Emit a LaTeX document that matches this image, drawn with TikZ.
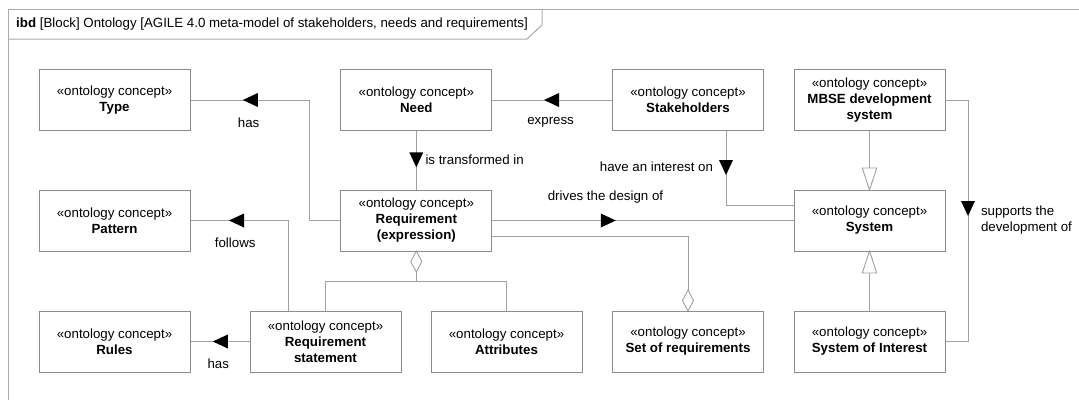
\documentclass[tikz,border=0pt]{standalone}
\usepackage{fontspec}
\setmainfont{Liberation Sans}
\definecolor{boxc}{RGB}{140,140,140}
\definecolor{linec}{RGB}{160,160,160}
\definecolor{framec}{RGB}{170,170,170}
\newcommand\arrL[2]{\fill[black] (#1,#2) -- ++(15,-7) -- ++(0,14) -- cycle;}
\newcommand\arrR[2]{\fill[black] (#1,#2) -- ++(-15,-7) -- ++(0,14) -- cycle;}
\newcommand\arrD[2]{\fill[black] (#1,#2) -- ++(-7,-15) -- ++(14,0) -- cycle;}
\begin{document}
\begin{tikzpicture}[x=1pt,y=-1pt,
  concept/.style={draw=boxc, line width=1pt, minimum width=151pt, minimum height=61pt, inner sep=0pt, align=center, font=\fontsize{13.3}{16}\selectfont, fill=white},
  conn/.style={draw=linec, line width=0.9pt},
  hollow/.style={draw=linec, line width=0.9pt, fill=white},
  lbl/.style={font=\fontsize{13.3}{16}\selectfont, inner sep=0pt},
]
\useasboundingbox[fill=white] (0,0) rectangle (1079,400);
% frame
\draw[framec, line width=1pt] (8,400) -- (8,9) -- (1079,9);
\draw[framec, line width=1pt] (8,39) -- (527,39) -- (542,25) -- (542,9);
\node[lbl, anchor=west] (title) at (16,24) {\textbf{ibd} [Block] Ontology [AGILE 4.0 meta-model of stakeholders, needs and requirements]};
% nodes
\node[concept] (type) at (114.5,100) {«ontology concept»\\\textbf{Type}};
\node[concept] (need) at (416.3,100) {«ontology concept»\\\textbf{Need}};
\node[concept] (stake) at (688,100) {«ontology concept»\\\textbf{Stakeholders}};
\node[concept] (mbse) at (869.5,100) {«ontology concept»\\\textbf{MBSE development}\\\textbf{system}};
\node[concept] (pattern) at (114.5,220.5) {«ontology concept»\\\textbf{Pattern}};
\node[concept] (req) at (416.3,220.5) {«ontology concept»\\\textbf{Requirement}\\\textbf{(expression)}};
\node[concept] (sys) at (869.5,220.5) {«ontology concept»\\\textbf{System}};
\node[concept] (rules) at (114.5,341.5) {«ontology concept»\\\textbf{Rules}};
\node[concept] (rs) at (325.5,341.5) {«ontology concept»\\\textbf{Requirement}\\\textbf{statement}};
\node[concept] (attr) at (506.5,341.5) {«ontology concept»\\\textbf{Attributes}};
\node[concept] (set) at (688,341.5) {«ontology concept»\\\textbf{Set of requirements}};
\node[concept] (soi) at (869.5,341.5) {«ontology concept»\\\textbf{System of Interest}};
% connectors
\draw[conn] (req.west) -- ++(-30.4,0) |- (type.east);
\arrL{242.8}{100}
\node[lbl] (l1) at (248.6,122.3) {has};
\draw[conn] (stake.west) -- (need.east);
\arrL{544}{100}
\node[lbl] (l2) at (550.6,122.3) {express};
\draw[conn] (need.south) -- (req.north);
\arrD{416.3}{167.3}
\node[lbl, anchor=west] (l3) at (425.3,159.3) {is transformed in};
\draw[conn] ([xshift=38pt]stake.south) |- ([yshift=15.5pt]sys.west);
\arrD{726}{175}
\node[lbl, anchor=east] (l4) at (713.2,167) {have an interest on};
\draw[conn] (req.east) -- (sys.west);
\arrR{615.8}{220.5}
\node[lbl] (l5) at (605.5,196.7) {drives the design of};
\draw[conn] (mbse.south) -- (sys.north);
\filldraw[hollow] (869.5,190) -- ++(-7.2,-22) -- ++(14.4,0) -- cycle;
\draw[conn] (soi.north) -- (sys.south);
\filldraw[hollow] (869.5,251) -- ++(-7.2,22) -- ++(14.4,0) -- cycle;
\draw[conn] (mbse.east) -- (968,100) |- (soi.east);
\arrD{968}{216}
\node[lbl, anchor=west, align=left, font=\fontsize{13.3}{16.5}\selectfont] (l6) at (980.8,220) {supports the\\development of};
\draw[conn] ([yshift=-15.5pt]req.east) -| (set.north);
\filldraw[hollow] (688,311) -- ++(5.5,-10.5) -- ++(-5.5,-10.5) -- ++(-5.5,10.5) -- cycle;
\draw[conn] (req.south) -- ++(0,30) coordinate (j);
\draw[conn] (rs.north) |- (j) -| (attr.north);
\filldraw[hollow] (416.3,251) -- ++(5.5,10.5) -- ++(-5.5,10.5) -- ++(-5.5,-10.5) -- cycle;
\draw[conn] ([xshift=-37pt]rs.north) |- (pattern.east);
\arrL{229}{220.5}
\node[lbl] (l7) at (235.2,242.7) {follows};
\draw[conn] (rs.west) -- (rules.east);
\arrL{212.8}{341.5}
\node[lbl] (l8) at (218.3,364) {has};
\end{tikzpicture}
\end{document}
